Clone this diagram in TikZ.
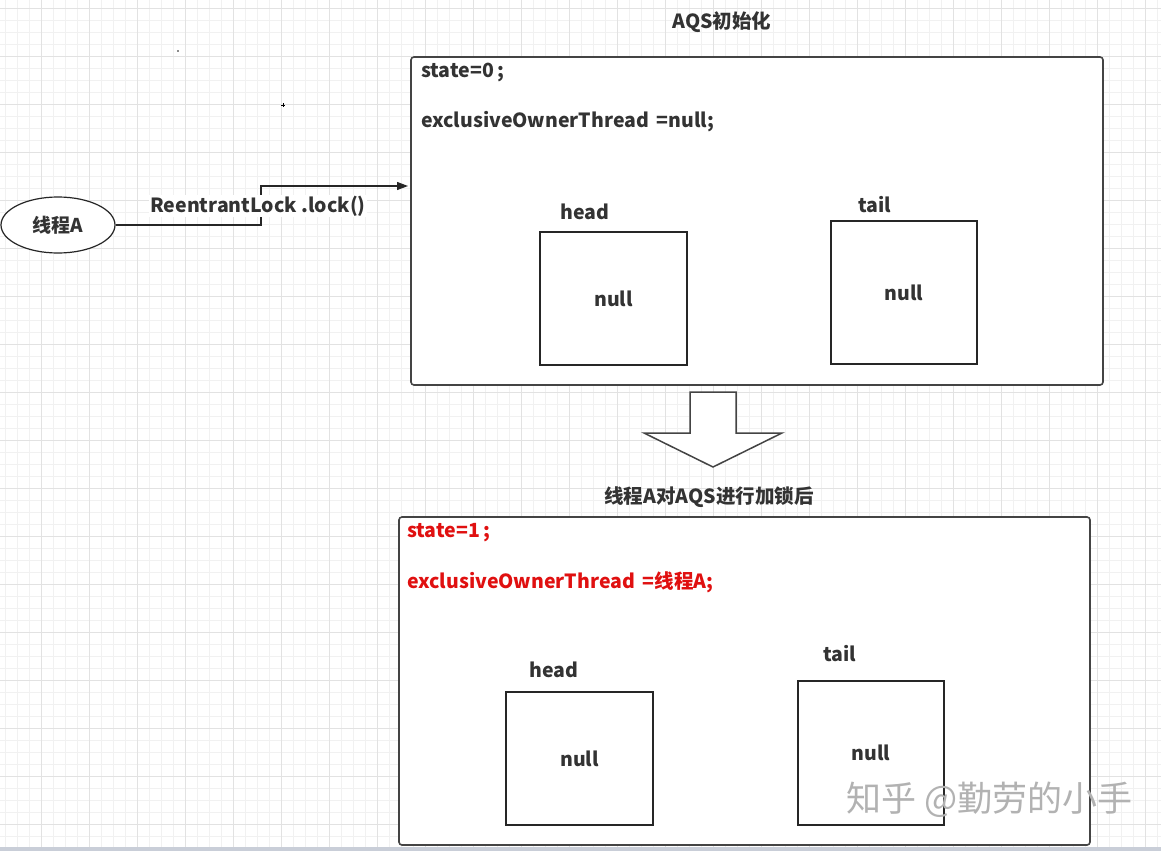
\documentclass[tikz,border=0pt]{standalone}
\usepackage{fontspec}
\setmainfont{Noto Sans CJK SC}
\usetikzlibrary{shapes.geometric,arrows.meta}
\definecolor{txt}{HTML}{333333}
\definecolor{redt}{HTML}{E01010}
\definecolor{gmin}{HTML}{F1F1F1}
\definecolor{gmaj}{HTML}{E2E2E2}
\definecolor{bord}{HTML}{444444}
\definecolor{strip}{HTML}{C9CED8}
\tikzset{
  lbl/.style={font=\fontsize{19.5}{22}\selectfont\bfseries, text=txt, inner sep=0pt},
  bigbox/.style={draw=bord, line width=1.6pt, rounded corners=3pt, fill=white, inner sep=0pt},
  cell/.style={draw=black!85, line width=1.2pt, fill=white, inner sep=0pt, font=\fontsize{19.5}{22}\selectfont\bfseries, text=txt},
}
\begin{document}
\begin{tikzpicture}[x=1pt,y=-1pt]
\useasboundingbox (0,0) rectangle (1161,851);
\fill[white] (0,0) rectangle (1161,851);
% grid
\foreach \i in {0,...,97} { \draw[gmin, line width=0.8pt] ({5+12*\i},0) -- ({5+12*\i},851); }
\foreach \i in {0,...,71} { \draw[gmin, line width=0.8pt] (0,{8+12*\i}) -- (1161,{8+12*\i}); }
\foreach \i in {0,...,24} { \draw[gmaj, line width=0.9pt] ({41+48*\i},0) -- ({41+48*\i},851); }
\foreach \i in {0,...,17} { \draw[gmaj, line width=0.9pt] (0,{8+48*\i}) -- (1161,{8+48*\i}); }
\fill[black!45] (177,50) rectangle (179,52);
\draw[black, line width=0.8pt] (281,105) -- (285,105) (283,103) -- (283,107);
% bottom strip
\fill[strip] (0,847) rectangle (1161,851);

% top box
\node[lbl] (t1) at (722,22) {AQS初始化};
\node[bigbox, minimum width=692pt, minimum height=328pt] (b1) at (757,221) {};
\node[lbl, anchor=west] (s1) at (421,72) {state=0\,;};
\node[lbl, anchor=west] (o1) at (421,122) {exclusiveOwnerThread \,=null;};
\node[lbl] (hl1) at (585,212) {head};
\node[cell, minimum width=147pt, minimum height=133pt] (h1) at (613.5,298.5) {null};
\node[lbl] (tl1) at (875,205) {tail};
\node[cell, minimum width=146pt, minimum height=143pt] (tb1) at (904,292.5) {null};

% thread ellipse and arrow
\node[ellipse, draw=black!85, line width=1.2pt, fill=white, minimum width=114pt, minimum height=56pt, inner sep=0pt, font=\fontsize{19}{22}\selectfont\bfseries, text=txt] (th) at (58,225) {线程A};
\coordinate (tip) at (408,186);
\draw[black!85, line width=1.2pt, -{Triangle[length=11pt,width=8pt]}] (th.east) -- (261,225) -- (261,186) -- (tip);
\node[lbl, fill=white, inner sep=1pt] (call) at (258,206) {ReentrantLock .lock()};

% down arrow
\draw[bord, line width=1.5pt, fill=white, line join=miter]
  (690,392) -- (736,392) -- (736,433) -- (782,433) -- (713,467) -- (644,433) -- (690,433) -- cycle;

% bottom box
\node[lbl] (t2) at (709,497) {线程A对AQS进行加锁后};
\node[bigbox, minimum width=691pt, minimum height=328pt] (b2) at (744.5,681) {};
\node[lbl, text=redt, anchor=west] (s2) at (407,533) {state=1\,;};
\node[lbl, text=redt, anchor=west] (o2) at (407,582) {exclusiveOwnerThread \,=线程A;};
\node[lbl] (hl2) at (554,670) {head};
\node[cell, minimum width=147pt, minimum height=133pt] (h2) at (579.5,758.5) {null};
\node[lbl] (tl2) at (840,654) {tail};
\node[cell, minimum width=146pt, minimum height=144pt] (tb2) at (871,753) {null};

% watermark
\node[font=\fontsize{35}{38}\selectfont, text=black!30, inner sep=0pt, anchor=west] (wm) at (846,800) {知乎 @勤劳的小手};
\end{tikzpicture}
\end{document}
